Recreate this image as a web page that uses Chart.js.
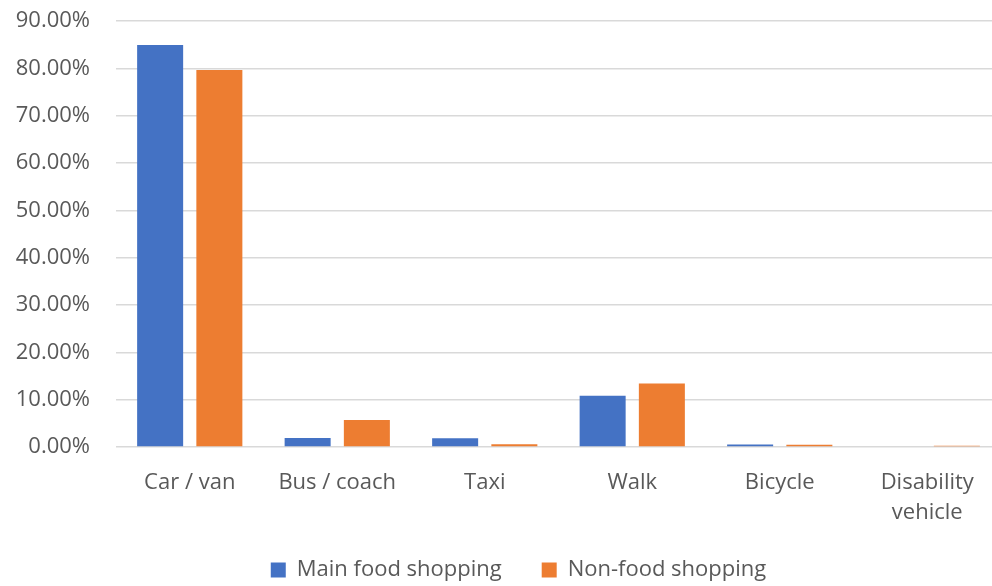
<!DOCTYPE html>
<html lang="en">
<head>
  <meta charset="UTF-8" />
  <title>Shopping travel mode</title>
  <script src="https://cdn.jsdelivr.net/npm/chart.js"></script>
  <style>
    html, body { margin: 0; padding: 0; background: #fff; overflow: hidden; }
    /* the original plot runs slightly past the right edge of the image */
    #wrap { width: 1001px; height: 586px; }
  </style>
</head>
<body>
  <div id="wrap"><canvas id="modeChart"></canvas></div>
  <script>
    // values (percent)
    const categories = ['Car / van', 'Bus / coach', 'Taxi', 'Walk', 'Bicycle', ['Disability', 'vehicle']];
    const mainFood = [84.95, 1.9, 1.85, 10.85, 0.55, 0];
    const nonFood = [79.65, 5.7, 0.6, 13.4, 0.45, 0.25];
    const seriesNames = ['Main food shopping', 'Non-food shopping'];
    const yMax = 90;
    const yStep = 10;

    const textColor = '#595959';
    const font = { family: "'Open Sans', sans-serif", size: 22 };

    // legend sits a bit right of centre in the original; also let the
    // two-line category label run past the axis box instead of being clipped
    const nudge = {
      id: 'nudge',
      afterLayout(chart) {
        chart.legend.left += 18;
        chart.legend.right += 18;
        chart.scales.x.bottom = chart.height;
      }
    };

    new Chart(document.getElementById('modeChart'), {
      type: 'bar',
      data: {
        labels: categories,
        datasets: [
          { label: seriesNames[0], data: mainFood, backgroundColor: '#4472C4' },
          { label: seriesNames[1], data: nonFood, backgroundColor: '#ED7D31' }
        ]
      },
      plugins: [nudge],
      options: {
        responsive: true,
        maintainAspectRatio: false,
        animation: false,
        categoryPercentage: 0.803,
        barPercentage: 0.777,
        layout: { padding: { top: 21, right: 0, left: 0, bottom: -5 } },
        plugins: {
          tooltip: { enabled: false },
          legend: {
            position: 'bottom',
            labels: { color: textColor, font: font, boxWidth: 15, boxHeight: 15, padding: 40 }
          }
        },
        scales: {
          x: {
            grid: { display: false },
            border: { display: false },
            ticks: {
              color: textColor,
              font: { family: font.family, size: 22, lineHeight: 1.4 },
              padding: 12,
              maxRotation: 0,
              autoSkip: false
            },
            afterFit: (s) => { s.height = 72; s.paddingTop = 0; }
          },
          y: {
            min: 0,
            max: yMax,
            border: { display: false },
            grid: { color: '#d9d9d9', lineWidth: 1.5, drawTicks: false },
            ticks: {
              stepSize: yStep,
              color: textColor,
              font: font,
              padding: 26,
              callback: (v) => v.toFixed(2) + '%'
            },
            afterFit: (s) => { s.width = 116; s.paddingTop = 0; }
          }
        }
      }
    });
  </script>
</body>
</html>
